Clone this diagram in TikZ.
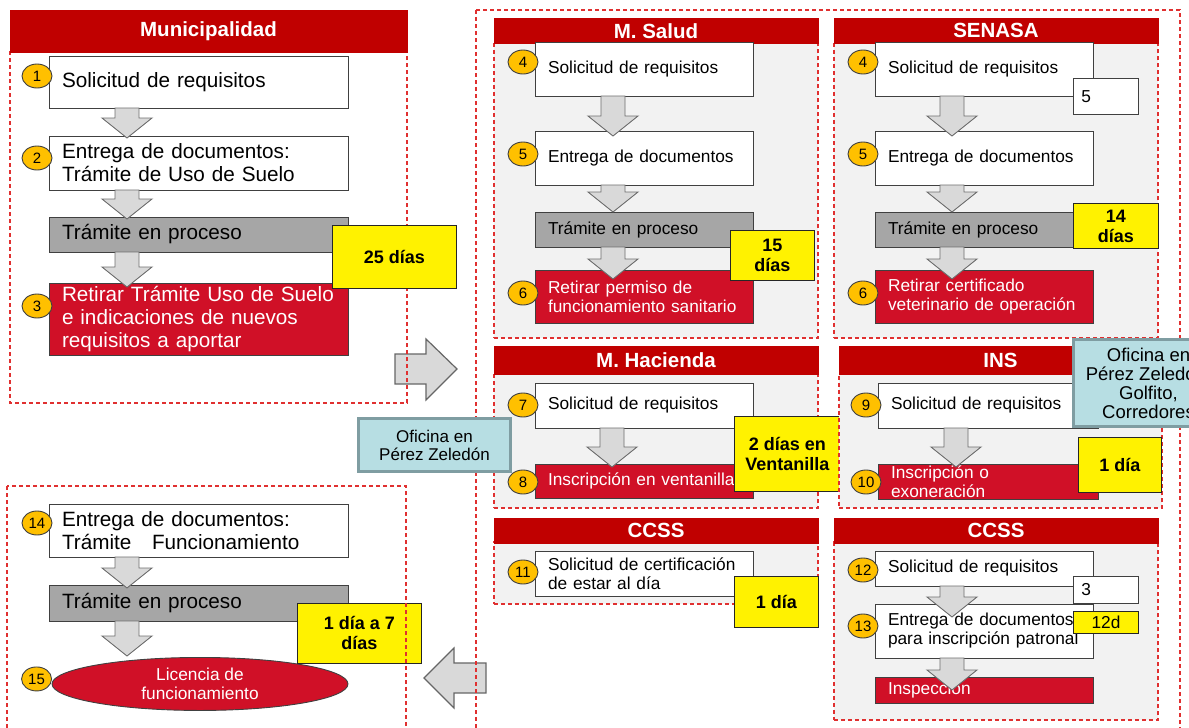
\documentclass[tikz,border=0pt]{standalone}
\usepackage{fontspec}
\setmainfont{Liberation Sans}
\usetikzlibrary{calc,
                positioning,
                shapes.geometric
                }
\definecolor{hdrred}{RGB}{192,0,0}
\definecolor{boxred}{RGB}{208,16,39}
\definecolor{dashred}{RGB}{224,48,48}
\definecolor{panelgray}{RGB}{242,242,242}
\definecolor{procgray}{RGB}{166,166,166}
\definecolor{arrowgray}{RGB}{217,217,217}
\definecolor{arrowedge}{RGB}{110,110,110}
\definecolor{linea}{RGB}{64,64,64}
\definecolor{numgold}{RGB}{255,192,0}
\definecolor{notecyan}{RGB}{183,222,227}
\definecolor{noteedge}{RGB}{127,157,162}
\newcommand{\txtgrande}{\fontsize{20.7}{23}\selectfont}
\newcommand{\txtchico}{\fontsize{17.3}{19}\selectfont}
% block arrow between two steps
\newcommand{\flowstep}[4][78]{%
  \draw[flecha] ($(#2.south west)+(#1-12,0)$)
    -- ($(#2.south west |- #3.north)+(#1-12,#4-20)$)
    -- ($(#2.south west |- #3.north)+(#1-25,#4-20)$)
    -- ($(#2.south west |- #3.north)+(#1,#4)$)
    -- ($(#2.south west |- #3.north)+(#1+25,#4-20)$)
    -- ($(#2.south west |- #3.north)+(#1+12,#4-20)$)
    -- ($(#2.south west)+(#1+12,0)$) -- cycle;}

\begin{document}
\begin{tikzpicture}[x=1pt, y=-1pt,
    zona/.style = {inner sep=0pt, outer sep=0pt, anchor=north west},
   borde/.style = {draw=dashred, dash pattern=on 4pt off 3pt, line width=1.1pt},
   panel/.style = {zona, borde, fill=panelgray},
  titulo/.style = {fill=hdrred, text=white, inner sep=0pt, outer sep=0pt, anchor=south west,
                   font=\bfseries\fontsize{20.5}{22}\selectfont},
    paso/.style = {draw=linea, fill=white, line width=0.9pt, align=left,
                   inner xsep=13pt, inner ysep=0pt, outer sep=0pt},
 proceso/.style = {paso, fill=procgray},
  retiro/.style = {paso, fill=boxred, text=white},
   ancho/.style = {text width=273pt, font=\txtgrande},
 angosto/.style = {text width=192pt, font=\txtchico},
     num/.style = {ellipse, draw=linea, fill=numgold, line width=0.9pt, inner sep=0pt,
                   minimum width=30pt, minimum height=24pt, font=\fontsize{15}{16}\selectfont},
   plazo/.style = {draw=black!85, fill=yellow, line width=0.9pt, align=center, inner sep=0pt,
                   anchor=north west, font=\bfseries\fontsize{18}{20}\selectfont},
  aparte/.style = {draw=linea, fill=white, line width=0.9pt, align=left, text width=49pt,
                   inner xsep=8pt, inner ysep=0pt, anchor=north west, font=\txtchico},
    nota/.style = {draw=noteedge, fill=notecyan, line width=3pt, align=center,
                   inner sep=0pt, anchor=north west},
  flecha/.style = {draw=arrowedge, fill=arrowgray, line width=0.9pt},
 grande/.style = {flecha, draw=black!60, line width=1.2pt},
licencia/.style = {ellipse, draw=linea, fill=boxred, text=white, line width=0.9pt,
                   align=center, inner sep=0pt, font=\txtchico}
                    ]
\useasboundingbox (0,0) rectangle (1189,728);
\clip (0,0) rectangle (1189,728);

% groups, outlines drawn at the end
\node[zona, minimum width=397pt, minimum height=352pt] (muni)  at (10,51) {};
\node[zona, minimum width=704pt, minimum height=740pt] (otros) at (476,10) {};
\node[zona, minimum width=399pt, minimum height=260pt] (final) at (7,486) {};

% Municipalidad
\node[paso, ancho, minimum height=52pt, anchor=north west] (m1) at (49,56) {Solicitud de requisitos};
\node[paso, ancho, minimum height=54pt, below=28pt of m1] (m2) {Entrega de documentos:\\Trámite de Uso de Suelo};
\node[proceso, ancho, minimum height=35pt, below=27pt of m2] (m3) {Trámite en proceso};
\node[retiro, ancho, minimum height=72pt, below=31pt of m3] (m4) {Retirar Trámite Uso de Suelo\\e indicaciones de nuevos\\requisitos a aportar};
\flowstep{m1}{m2}{2}
\flowstep{m2}{m3}{2}
\flowstep{m3}{m4}{4}
\node[num] (k1) at ($(m1.north west)+(-12,20)$) {1};
\node[num] (k2) at ($(m2.north west)+(-12,22)$) {2};
\node[num] (k3) at ($(m4.north west)+(-12,23)$) {3};

% M. Salud
\node[panel, minimum width=324pt, minimum height=296pt] (salud) at (494,42) {};
\node[titulo, minimum width=325pt, minimum height=25.5pt] (saludt) at ($(salud.north west)+(-0.5,1.5)$) {M. Salud};
\node[paso, angosto, minimum height=54pt, anchor=north west] (s1) at (535,42) {Solicitud de requisitos};
\node[paso, angosto, minimum height=54pt, below=35pt of s1] (s2) {Entrega de documentos};
\node[proceso, angosto, minimum height=35pt, below=27pt of s2] (s3) {Trámite en proceso};
\node[retiro, angosto, minimum height=53pt, below=23pt of s3] (s4) {Retirar permiso de\\funcionamiento sanitario};
\flowstep{s1}{s2}{5}
\flowstep{s2}{s3}{0}
\flowstep{s3}{s4}{9}
\node[num] (k4) at ($(s1.north west)+(-12,20)$) {4};
\node[num] (k5) at ($(s2.north west)+(-12,23)$) {5};
\node[num] (k6) at ($(s4.north west)+(-12,23)$) {6};
\node[plazo, minimum width=84pt, minimum height=50pt] (p2) at ($(s3.north east)+(-23,18)$) {15\\días};

% SENASA
\node[panel, minimum width=324pt, minimum height=296pt] (senasa) at (834,42) {};
\node[titulo, minimum width=325pt, minimum height=25.5pt] (senasat) at ($(senasa.north west)+(-0.5,1.5)$) {SENASA};
\node[paso, angosto, minimum height=54pt, anchor=north west] (n1) at (875,42) {Solicitud de requisitos};
\node[paso, angosto, minimum height=54pt, below=35pt of n1] (n2) {Entrega de documentos};
\node[proceso, angosto, minimum height=35pt, below=27pt of n2] (n3) {Trámite en proceso};
\node[retiro, angosto, minimum height=53pt, below=23pt of n3] (n4) {Retirar certificado\\veterinario de operación};
\flowstep[77]{n1}{n2}{5}
\flowstep[77]{n2}{n3}{0}
\flowstep[77]{n3}{n4}{9}
\node[num] (k4b) at ($(n1.north west)+(-12,20)$) {4};
\node[num] (k5b) at ($(n2.north west)+(-12,23)$) {5};
\node[num] (k6b) at ($(n4.north west)+(-12,23)$) {6};
\node[aparte, minimum height=36pt] (x5) at ($(n1.north east)+(-20,36)$) {5};
\node[plazo, minimum width=85pt, minimum height=45pt] (p3) at ($(n3.north east)+(-20,-9)$) {14\\días};

% M. Hacienda
\node[panel, minimum width=324pt, minimum height=135pt] (hacienda) at (494,373) {};
\node[titulo, minimum width=325pt, minimum height=28.5pt] (haciendat) at ($(hacienda.north west)+(-0.5,1.5)$) {M. Hacienda};
\node[paso, angosto, minimum height=45pt, anchor=north west] (h1) at (535,383) {Solicitud de requisitos};
\node[retiro, angosto, minimum height=34pt, below=36pt of h1] (h2) {Inscripción en ventanilla};
\flowstep[77]{h1}{h2}{3}
\node[num] (k7) at ($(h1.north west)+(-12,22)$) {7};
\node[num] (k8) at ($(h2.north west)+(-12,18)$) {8};
\node[plazo, minimum width=106pt, minimum height=75pt] (p4) at ($(h1.north east)+(-19,33)$) {2 días en\\Ventanilla};

% INS
\node[panel, minimum width=323pt, minimum height=135pt] (ins) at (839,373) {};
\node[titulo, minimum width=324pt, minimum height=28.5pt] (inst) at ($(ins.north west)+(-0.5,1.5)$) {INS};
\node[paso, text width=194pt, font=\txtchico, minimum height=45pt, anchor=north west] (i1) at (878,383) {Solicitud de requisitos};
\node[retiro, text width=194pt, font=\txtchico, minimum height=35pt, below=36pt of i1] (i2) {Inscripción o\\exoneración};
\flowstep{i1}{i2}{3}
\node[num] (k9) at ($(i1.north west)+(-12,22)$) {9};
\node[num] (k10) at ($(i2.north west)+(-12,18)$) {10};
\node[plazo, minimum width=83pt, minimum height=55pt] (p5) at ($(i1.north east)+(-20,54)$) {1 día};

% CCSS (left)
\node[panel, minimum width=324pt, minimum height=62pt] (ccssa) at (494,542) {};
\node[titulo, minimum width=325pt, minimum height=25.5pt] (ccssat) at ($(ccssa.north west)+(-0.5,1.5)$) {CCSS};
\node[paso, angosto, minimum height=45pt, anchor=north west] (c1) at (535,551) {Solicitud de certificación\\de estar al día};
\node[num] (k11) at ($(c1.north west)+(-12,21)$) {11};
\node[plazo, minimum width=84pt, minimum height=51pt] (p6) at ($(c1.north east)+(-19,25)$) {1 día};

% CCSS (right)
\node[panel, minimum width=324pt, minimum height=178pt] (ccssb) at (834,542) {};
\node[titulo, minimum width=325pt, minimum height=25.5pt] (ccssbt) at ($(ccssb.north west)+(-0.5,1.5)$) {CCSS};
\node[paso, angosto, minimum height=35pt, anchor=north west] (r1) at (875,551) {Solicitud de requisitos};
\node[paso, angosto, minimum height=54pt, below=18pt of r1] (r2) {Entrega de documentos\\para inscripción patronal};
\node[retiro, angosto, minimum height=26pt, below=19pt of r2] (r3) {Inspección};
\flowstep[77]{r1}{r2}{13}
\flowstep[77]{r2}{r3}{13}
\node[num] (k12) at ($(r1.north west)+(-12,19)$) {12};
\node[num] (k13) at ($(r2.north west)+(-12,22)$) {13};
\node[aparte, minimum height=27pt] (x3) at ($(r1.north east)+(-20,25)$) {3};
\node[plazo, minimum width=65pt, minimum height=22pt, font=\txtchico] (p8) at ($(r2.north east)+(-20,7)$) {12d};

% Funcionamiento
\node[paso, ancho, minimum height=53pt, anchor=north west] (f1) at (49,504) {Entrega de documentos:\\Trámite~~ Funcionamiento};
\node[proceso, ancho, minimum height=36pt, below=28pt of f1] (f2) {Trámite en proceso};
\node[licencia, minimum width=296pt, minimum height=53pt, below=36pt of f2, xshift=1.5pt] (f3) {Licencia de\\funcionamiento};
\flowstep{f1}{f2}{3}
\flowstep{f2}{f3}{-1}
\node[num] (k14) at ($(f1.north west)+(-12,19)$) {14};
\node[num] (k15) at ($(f3.west)+(-15,-5)$) {15};
\node[plazo, minimum width=124pt, minimum height=60pt] (p7) at ($(f2.north east)+(-51,18)$) {1 día a 7\\días};

% big arrows between groups
\draw[grande] ($(muni.south east)+(-12,-49)$) -- ++(31,0) -- ++(0,-15)
    -- ($(muni.south east)+(50,-34)$) -- ($(muni.south east)+(19,-3)$)
    -- ++(0,-16) -- ++(-31,0) -- cycle;
\draw[grande] ($(final.north east)+(18,192)$) -- ++(30,-30) -- ++(0,15) -- ++(32,0)
    -- ++(0,30) -- ++(-32,0) -- ++(0,15) -- cycle;

% group outlines
\draw[borde] (muni.north west) rectangle (muni.south east);
\draw[borde] (otros.north west) rectangle (otros.south east);
\draw[borde] (final.north west) rectangle (final.south east);
\node[titulo, minimum width=398pt, minimum height=42.5pt] (munit) at ($(muni.north west)+(-0.5,1.5)$) {Municipalidad};
\node[plazo, minimum width=124pt, minimum height=63pt] (p1) at ($(m3.north east)+(-16,8)$) {25 días};

% offices
\node[nota, minimum width=152pt, minimum height=53pt, font=\fontsize{17}{18}\selectfont] (b1) at ($(hacienda.north west)+(-137,44)$) {Oficina en\\Pérez Zeledón};
\node[nota, minimum width=150pt, minimum height=87pt, font=\fontsize{18.5}{19}\selectfont] (b2) at ($(ins.north west)+(233,-35)$) {Oficina en\\Pérez Zeledón,\\Golfito,\\Corredores};
\end{tikzpicture}
\end{document}
